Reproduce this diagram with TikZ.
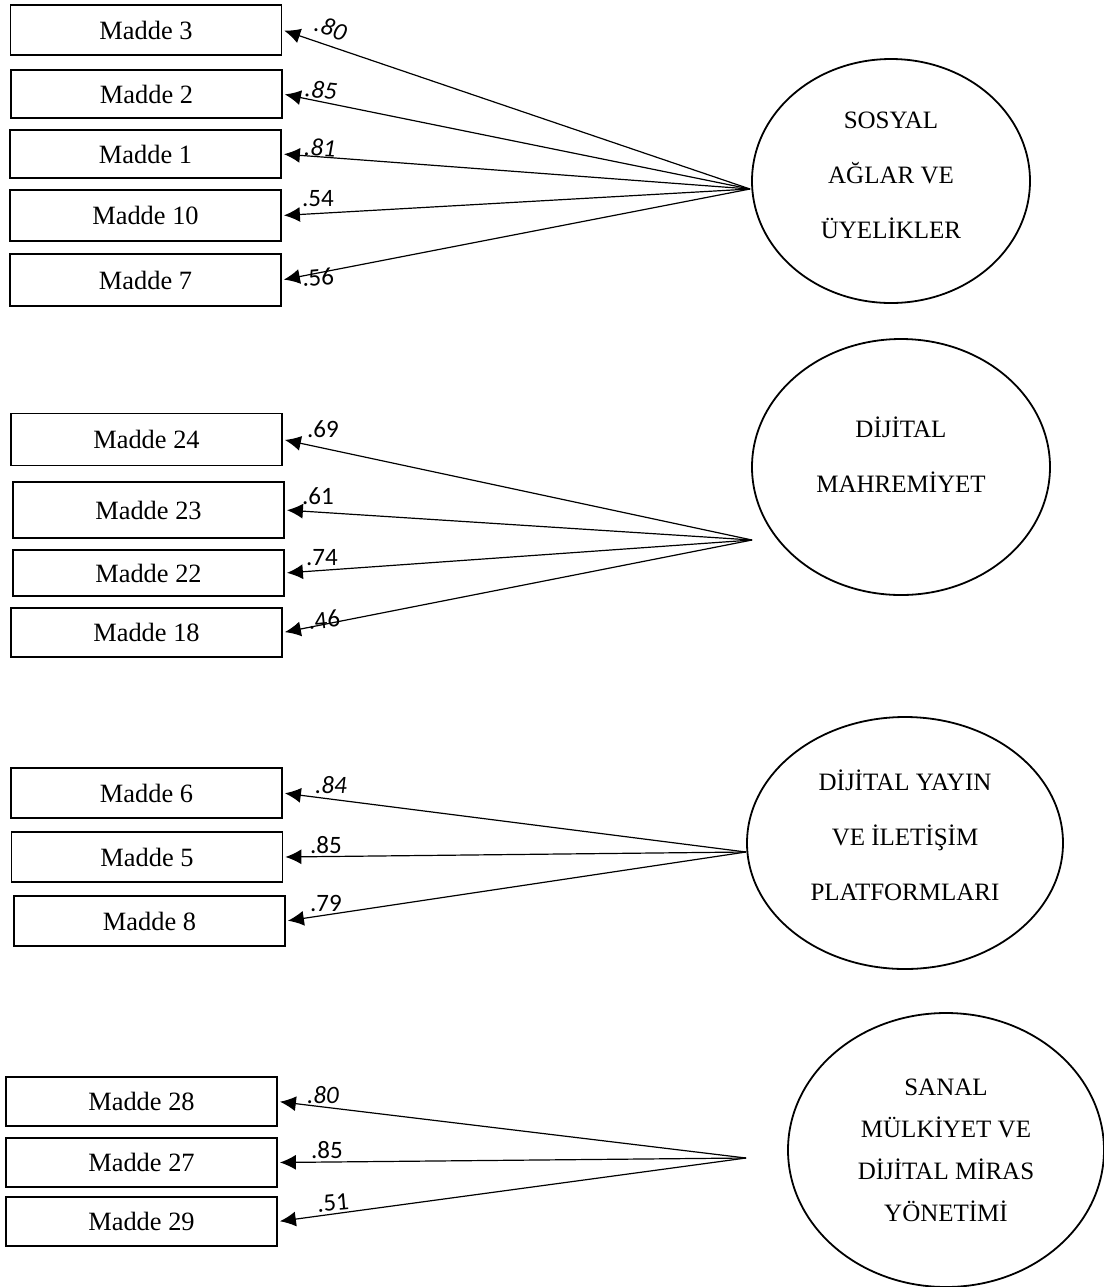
\documentclass[tikz,border=0pt]{standalone}
\usepackage{fontspec}
\setmainfont{Liberation Serif}
\newfontfamily\lblfont{Carlito}
\usetikzlibrary{arrows.meta,shapes.geometric,calc}
\tikzset{
  item/.style={draw,line width=0.9pt,minimum width=135.5pt,minimum height=25pt,
               inner sep=0pt,font=\fontsize{13.2}{15}\selectfont},
  factor/.style={draw,ellipse,line width=0.9pt,inner sep=0pt,align=center,
                 font=\fontsize{12.5}{27.5}\selectfont},
  arr/.style={-{Latex[length=8pt,width=7.5pt]},line width=0.6pt,shorten >=1pt},
  lbl/.style={font=\lblfont\fontsize{12.5}{14}\selectfont,inner sep=0pt},
  ilbl/.style={font=\lblfont\itshape\fontsize{12.5}{14}\selectfont,inner sep=0pt},
}

\begin{document}
\begin{tikzpicture}[x=0.5pt,y=-0.5pt]
\useasboundingbox (0,0) rectangle (1104,1287);
% sosyal aglar
\node[item] (m3) at (146,30) {Madde 3};
\node[item,minimum height=24pt] (m2) at (146.5,94) {Madde 2};
\node[item,minimum height=24pt] (m1) at (145.5,154) {Madde 1};
\node[item,minimum height=25.5pt] (m10) at (145.5,215.5) {Madde 10};
\node[item,minimum height=26pt] (m7) at (145.5,280) {Madde 7};
\node[factor,minimum width=139pt,minimum height=122pt] (sosyal) at (891,181)
  {SOSYAL\\ AĞLAR VE\\ ÜYELİKLER\\[-22pt]\mbox{}};
\coordinate (s1) at (750,189);
\draw[arr] (s1) -- (m3.east);
\draw[arr] (s1) -- (m2.east);
\draw[arr] (s1) -- (m1.east);
\draw[arr] (s1) -- (m10.east);
\draw[arr] (s1) -- (m7.east);
\node[ilbl,rotate=-20] (l3) at (331,28) {.80};
\node[ilbl,rotate=-6] (l2) at (321,90) {.85};
\node[ilbl,rotate=-3] (l1) at (320,148) {.81};
\node[lbl] (l10) at (318,199) {.54};
\node[lbl,rotate=5] (l7) at (318,277) {.56};
% dijital mahremiyet
\node[item,minimum height=26pt] (m24) at (146.5,439.5) {Madde 24};
\node[item,minimum height=28pt] (m23) at (148.5,510) {Madde 23};
\node[item,minimum height=23pt] (m22) at (148.5,573) {Madde 22};
\node[item,minimum height=24.5pt] (m18) at (146.5,632.5) {Madde 18};
\node[factor,minimum width=149pt,minimum height=128pt] (mahrem) at (901,467)
  {DİJİTAL\\ MAHREMİYET\\[-15pt]\mbox{}};
\coordinate (s2) at (752,540);
\draw[arr] (s2) -- (m24.east);
\draw[arr] (s2) -- (m23.east);
\draw[arr] (s2) -- (m22.east);
\draw[arr] (s2) -- (m18.east);
\node[lbl] (l24) at (323,429) {.69};
\node[lbl] (l23) at (318,496) {.61};
\node[lbl] (l22) at (322,558) {.74};
\node[lbl,rotate=6] (l18) at (324,620) {.46};
% dijital yayin
\node[item] (m6) at (146.5,793) {Madde 6};
\node[item] (m5) at (147,857) {Madde 5};
\node[item] (m8) at (149.5,921) {Madde 8};
\node[factor,minimum width=158pt,minimum height=126pt] (yayin) at (905,843)
  {DİJİTAL YAYIN\\ VE İLETİŞİM\\ PLATFORMLARI\\[-20pt]\mbox{}};
\coordinate (s3) at (746,852);
\draw[arr] (s3) -- (m6.east);
\draw[arr] (s3) -- (m5.east);
\draw[arr] (s3) -- (m8.east);
\node[ilbl] (l6) at (331,785) {.84};
\node[lbl] (l5) at (326,845) {.85};
\node[lbl] (l8) at (326,903) {.79};
% sanal mulkiyet
\node[item,minimum height=24.5pt] (m28) at (141.5,1101.5) {Madde 28};
\node[item,minimum height=24.5pt] (m27) at (141.5,1162.5) {Madde 27};
\node[item,minimum height=24.5pt] (m29) at (141.5,1221.5) {Madde 29};
\node[factor,minimum width=158pt,minimum height=137pt,
      font=\fontsize{12.5}{21}\selectfont] (miras) at (946,1150)
  {SANAL\\ MÜLKİYET VE\\ DİJİTAL MİRAS\\ YÖNETİMİ};
\coordinate (s4) at (746,1158);
\draw[arr] (s4) -- (m28.east);
\draw[arr] (s4) -- (m27.east);
\draw[arr] (s4) -- (m29.east);
\node[ilbl] (l28) at (323,1095) {.80};
\node[lbl] (l27) at (327,1150) {.85};
\node[lbl,rotate=5] (l29) at (333,1203) {.51};
\end{tikzpicture}
\end{document}
